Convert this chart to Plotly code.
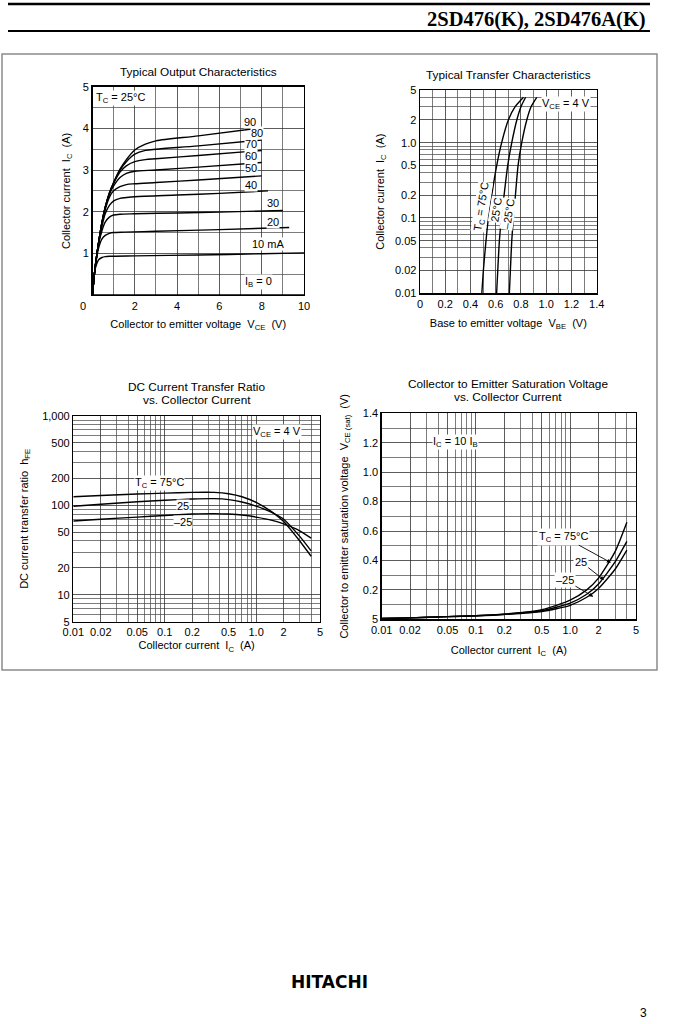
import numpy as np
import plotly.graph_objects as go

W, H = 691, 1024
FONT = "Liberation Sans, Arial, Helvetica, sans-serif"
SERIF = "Liberation Serif, Times New Roman, serif"

# ---------------- Chart 1: Typical Output Characteristics (Tc = 25 C)
ib_names = ["90", "80", "70", "60", "50", "40", "30", "20", "10 mA", "I_B = 0"]
ib90_v = [0, 0.1, 0.2, 0.3, 0.45, 0.6, 0.8, 1.0, 1.3, 1.6, 2.0, 2.5, 3.0, 5.0, 7.8]
ib90_i = [0, 0.55, 0.95, 1.3, 1.75, 2.1, 2.45, 2.7, 3.02, 3.25, 3.48, 3.62, 3.7, 3.82, 4.0]
ib80_v = [0, 0.1, 0.2, 0.3, 0.45, 0.6, 0.8, 1.0, 1.3, 1.6, 2.0, 2.5, 3.0, 5.0, 8.0]
ib80_i = [0, 0.55, 0.95, 1.3, 1.75, 2.1, 2.45, 2.7, 3.0, 3.2, 3.38, 3.47, 3.5, 3.58, 3.72]
ib70_v = [0, 0.1, 0.2, 0.3, 0.45, 0.6, 0.8, 1.0, 1.3, 1.6, 2.0, 2.5, 3.0, 5.0, 8.0]
ib70_i = [0, 0.55, 0.95, 1.3, 1.75, 2.1, 2.45, 2.68, 2.95, 3.1, 3.2, 3.25, 3.27, 3.35, 3.47]
ib60_v = [0, 0.1, 0.2, 0.3, 0.45, 0.6, 0.8, 1.0, 1.3, 1.6, 2.0, 3.0, 5.0, 8.0]
ib60_i = [0, 0.55, 0.95, 1.3, 1.75, 2.1, 2.42, 2.62, 2.82, 2.92, 2.97, 3.0, 3.07, 3.18]
ib50_v = [0, 0.1, 0.2, 0.3, 0.45, 0.6, 0.8, 1.0, 1.3, 1.6, 2.0, 3.0, 5.0, 8.0]
ib50_i = [0, 0.55, 0.95, 1.3, 1.73, 2.05, 2.35, 2.5, 2.6, 2.65, 2.67, 2.7, 2.76, 2.86]
ib40_v = [0, 0.1, 0.2, 0.3, 0.45, 0.6, 0.8, 1.0, 1.3, 1.6, 2.0, 4.0, 6.0, 8.3]
ib40_i = [0, 0.55, 0.95, 1.28, 1.65, 1.95, 2.15, 2.26, 2.32, 2.34, 2.36, 2.4, 2.44, 2.5]
ib30_v = [0, 0.1, 0.2, 0.3, 0.45, 0.6, 0.8, 1.0, 1.3, 2.0, 4.0, 6.0, 9.0]
ib30_i = [0, 0.55, 0.95, 1.25, 1.55, 1.75, 1.87, 1.92, 1.94, 1.95, 1.97, 1.99, 2.03]
ib20_v = [0, 0.1, 0.2, 0.3, 0.45, 0.6, 0.8, 1.0, 1.5, 3.0, 6.0, 9.3]
ib20_i = [0, 0.55, 0.9, 1.15, 1.35, 1.43, 1.48, 1.5, 1.51, 1.53, 1.57, 1.62]
ib10_v = [0, 0.05, 0.1, 0.2, 0.3, 0.45, 0.6, 0.8, 2.0, 5.0, 8.0, 10.0]
ib10_i = [0, 0.35, 0.55, 0.75, 0.85, 0.9, 0.92, 0.93, 0.94, 0.96, 0.99, 1.01]
ib0_v = [0, 10.0]
ib0_i = [0, 0]

# ---------------- Chart 2: Typical Transfer Characteristics (VCE = 4 V)
tr_ic = [0.01, 0.02, 0.05, 0.1, 0.2, 0.5, 1.0, 2.0, 3.0, 4.0]
tr_vbe_75 = [0.49, 0.502, 0.523, 0.542, 0.568, 0.608, 0.647, 0.70, 0.754, 0.82]
tr_vbe_25 = [0.607, 0.616, 0.629, 0.645, 0.666, 0.695, 0.727, 0.767, 0.80, 0.837]
tr_vbe_m25 = [0.708, 0.716, 0.727, 0.74, 0.756, 0.777, 0.806, 0.846, 0.88, 0.925]

# ---------------- Chart 3: DC current transfer ratio vs collector current
hfe_ic = [0.01, 0.02, 0.05, 0.1, 0.2, 0.35, 0.5, 0.7, 1.0, 1.5, 2.0, 3.0, 4.0]
hfe_75 = [125, 129, 134, 137, 140, 140, 135, 125, 108, 84, 66, 40, 27]
hfe_25 = [98, 103, 110, 114, 118, 119, 116, 109, 98, 83, 70, 45, 31]
hfe_m25 = [67, 70, 74, 77, 80, 81, 80, 78, 74, 68, 62, 52, 43]

# ---------------- Chart 4: VCE(sat) vs collector current (IC = 10 IB)
sat_ic = [0.01, 0.02, 0.05, 0.1, 0.2, 0.5, 1.0, 1.5, 2.0, 3.0, 4.0]
sat_75 = [0.005, 0.01, 0.018, 0.024, 0.035, 0.065, 0.13, 0.2, 0.28, 0.46, 0.66]
sat_25 = [0.005, 0.01, 0.018, 0.024, 0.034, 0.058, 0.11, 0.17, 0.24, 0.39, 0.53]
sat_m25 = [0.005, 0.01, 0.018, 0.024, 0.033, 0.053, 0.095, 0.15, 0.21, 0.34, 0.47]

# tick labels
c1_xticks = [0, 2, 4, 6, 8, 10]
c1_yticks = [1, 2, 3, 4, 5]
c2_xticks = [0, 0.2, 0.4, 0.6, 0.8, 1.0, 1.2, 1.4]
c2_xtext = ["0", "0.2", "0.4", "0.6", "0.8", "1.0", "1.2", "1.4"]
log_ic_ticks = [0.01, 0.02, 0.05, 0.1, 0.2, 0.5, 1, 2, 5]
log_ic_text = ["0.01", "0.02", "0.05", "0.1", "0.2", "0.5", "1.0", "2", "5"]
log_ic_minor = [0.03, 0.04, 0.06, 0.07, 0.08, 0.09, 0.3, 0.4, 0.6, 0.7, 0.8, 0.9, 3, 4]
hfe_ticks = [5, 10, 20, 50, 100, 200, 500, 1000]
hfe_text = ["5", "10", "20", "50", "100", "200", "500", "1,000"]
hfe_minor = [6, 7, 8, 9, 30, 40, 60, 70, 80, 90, 300, 400, 600, 700, 800, 900]
sat_ticks = [0, 0.2, 0.4, 0.6, 0.8, 1.0, 1.2, 1.4]
sat_text = ["5", "0.2", "0.4", "0.6", "0.8", "1.0", "1.2", "1.4"]


def px(x):
    return x / W


def py(y):
    return 1 - y / H


fig = go.Figure()


def add_line(x, y, xa, ya, name, smooth=0.8):
    fig.add_trace(go.Scatter(
        x=x, y=y, mode="lines", name=name, showlegend=False, hoverinfo="skip",
        line=dict(color="black", width=1.4, shape="spline", smoothing=smooth),
        xaxis=xa, yaxis=ya))


c1 = [(ib90_v, ib90_i), (ib80_v, ib80_i), (ib70_v, ib70_i), (ib60_v, ib60_i),
      (ib50_v, ib50_i), (ib40_v, ib40_i), (ib30_v, ib30_i), (ib20_v, ib20_i),
      (ib10_v, ib10_i), (ib0_v, ib0_i)]
for (v, i), n in zip(c1, ib_names):
    add_line(v, i, "x", "y", n)

for v, n in [(tr_vbe_75, "75°C"), (tr_vbe_25, "25°C"), (tr_vbe_m25, "-25°C")]:
    add_line(v, tr_ic, "x2", "y2", n, 0.6)

for h, n in [(hfe_75, "75"), (hfe_25, "25"), (hfe_m25, "-25")]:
    add_line(hfe_ic, h, "x3", "y3", n, 0.6)

for s, n in [(sat_75, "75"), (sat_25, "25"), (sat_m25, "-25")]:
    add_line(sat_ic, s, "x4", "y4", n, 0.6)

tickfont = dict(family=FONT, size=11, color="black")
titlefont = dict(family=FONT, size=11, color="black")
common = dict(showline=True, mirror=True, linecolor="black", linewidth=1.4,
              showgrid=True, gridcolor="#333333", gridwidth=0.8, zeroline=False,
              ticks="", tickfont=tickfont, fixedrange=True, automargin=False)
minor_lin = lambda vals: dict(tickmode="array", tickvals=vals, showgrid=True,
                              gridcolor="#444444", gridwidth=0.7, ticks="")

fig.update_layout(
    width=W, height=H, margin=dict(l=0, r=0, t=0, b=0, pad=0, autoexpand=False),
    paper_bgcolor="white", plot_bgcolor="white", showlegend=False,
    font=dict(family=FONT, size=11, color="black"),
)

fig.update_layout(
    xaxis=dict(common, domain=[px(92.5), px(304)], range=[0, 10], tickmode="array",
               tickvals=c1_xticks, ticktext=["", "2", "4", "6", "8", "10"],
               minor=minor_lin([1, 3, 5, 7, 9]), anchor="y",
               title=dict(text="Collector to emitter voltage  V<sub>CE</sub>  (V)", font=titlefont, standoff=9)),
    yaxis=dict(common, domain=[py(295), py(86.7)], range=[0, 5], tickmode="array",
               tickvals=c1_yticks, ticktext=[str(t) for t in c1_yticks],
               minor=minor_lin([0.5, 1.5, 2.5, 3.5, 4.5]), anchor="x",
               title=dict(text="Collector current  I<sub>C</sub>  (A)", font=titlefont, standoff=10)),
    xaxis2=dict(common, domain=[px(420), px(596.7)], range=[0, 1.4], tickmode="array",
                tickvals=c2_xticks, ticktext=c2_xtext,
                minor=minor_lin([0.1, 0.3, 0.5, 0.7, 0.9, 1.1, 1.3]), anchor="y2",
                title=dict(text="Base to emitter voltage  V<sub>BE</sub>  (V)", font=titlefont, standoff=10)),
    yaxis2=dict(common, domain=[py(293.3), py(90)], type="log", range=[-2, np.log10(5)],
                tickmode="array", tickvals=log_ic_ticks, ticktext=log_ic_text,
                minor=minor_lin(log_ic_minor), anchor="x2",
                title=dict(text="Collector current  I<sub>C</sub>  (A)", font=titlefont, standoff=8)),
    xaxis3=dict(common, domain=[px(73.3), px(320)], type="log", range=[-2, np.log10(5)],
                tickmode="array", tickvals=log_ic_ticks, ticktext=log_ic_text,
                minor=minor_lin(log_ic_minor), anchor="y3",
                title=dict(text="Collector current  I<sub>C</sub>  (A)", font=titlefont, standoff=4)),
    yaxis3=dict(common, domain=[py(621.7), py(416)], type="log", range=[np.log10(5), 3],
                tickmode="array", tickvals=hfe_ticks, ticktext=hfe_text,
                minor=minor_lin(hfe_minor), anchor="x3",
                title=dict(text="DC current transfer ratio  h<sub>FE</sub>", font=titlefont, standoff=11)),
    xaxis4=dict(common, domain=[px(381.7), px(636)], type="log", range=[-2, np.log10(5)],
                tickmode="array", tickvals=log_ic_ticks, ticktext=log_ic_text,
                minor=minor_lin(log_ic_minor), anchor="y4",
                title=dict(text="Collector current  I<sub>C</sub>  (A)", font=titlefont, standoff=11)),
    yaxis4=dict(common, domain=[py(619.3), py(413.3)], range=[0, 1.4],
                tickmode="array", tickvals=sat_ticks, ticktext=sat_text,
                minor=minor_lin([0.1, 0.3, 0.5, 0.7, 0.9, 1.1, 1.3]), anchor="x4",
                title=dict(text="Collector to emitter saturation voltage  V<sub>CE (sat)</sub>  (V)",
                           font=titlefont, standoff=12)),
)

ann = []


def A(text, x, y, xref="paper", yref="paper", size=11, bg=None, **kw):
    d = dict(text=text, x=x, y=y, xref=xref, yref=yref, showarrow=False,
             font=dict(family=FONT, size=size, color="black"),
             xanchor="center", yanchor="middle")
    if bg:
        d["bgcolor"] = bg
        d["borderpad"] = 0
    d.update(kw)
    ann.append(d)


WB = "white"
# page header / footer
A("<b>2SD476(K), 2SD476A(K)</b>", px(648), py(19.5), xanchor="right",
  font=dict(family=SERIF, size=20.5, color="black"))
A("<b>HITACHI</b>", px(329), py(982), font=dict(family="DejaVu Sans, sans-serif", size=17, color="black"))
A("3", px(643), py(1012.5), size=12)

# subplot titles
A("Typical Output Characteristics", px(198), py(72), size=11.8)
A("Typical Transfer Characteristics", px(508), py(75), size=11.8)
A("DC Current Transfer Ratio", px(196.7), py(386.7), size=11.8)
A("vs. Collector Current", px(196.7), py(400), size=11.8)
A("Collector to Emitter Saturation Voltage", px(508.3), py(384), size=11.8)
A("vs. Collector Current", px(508.3), py(396.7), size=11.8)

# chart 1 labels
A("0", px(83), py(306))
A("T<sub>C</sub> = 25°C", 1.33, 4.74, "x", "y", bg=WB)
A("90", 7.45, 4.16, "x", "y", bg=WB)
A("80", 7.8, 3.9, "x", "y", bg=WB)
A("70", 7.5, 3.62, "x", "y", bg=WB)
A("60", 7.5, 3.34, "x", "y", bg=WB)
A("50", 7.5, 3.04, "x", "y", bg=WB)
A("40", 7.5, 2.64, "x", "y", bg=WB)
A("30", 8.55, 2.2, "x", "y", bg=WB)
A("20", 8.55, 1.76, "x", "y", bg=WB)
A("10 mA", 8.3, 1.22, "x", "y", bg=WB)
A("I<sub>B</sub> = 0", 7.83, 0.32, "x", "y", bg=WB)

# chart 2 labels
A("V<sub>CE</sub> = 4 V", 1.16, np.log10(3.3), "x2", "y2", bg=WB)
A("T<sub>C</sub> = 75°C", 0.488, np.log10(0.141), "x2", "y2", bg=WB, textangle=-81)
A("25°C", 0.603, np.log10(0.128), "x2", "y2", bg=WB, textangle=-81)
A("–25°C", 0.700, np.log10(0.113), "x2", "y2", bg=WB, textangle=-81)

# chart 3 labels
A("V<sub>CE</sub> = 4 V", np.log10(1.68), 2.825, "x3", "y3", bg=WB)
A("T<sub>C</sub> = 75°C", np.log10(0.0887), np.log10(176), "x3", "y3", bg=WB)
A("25", np.log10(0.16), 1.993, "x3", "y3", bg=WB)
A("–25", np.log10(0.16), 1.818, "x3", "y3", bg=WB)

# chart 4 labels
A("I<sub>C</sub> = 10 I<sub>B</sub>", np.log10(0.06), 1.2075, "x4", "y4", bg=WB)
for txt, tip_x, tip_y, axp, ayp in [("T<sub>C</sub> = 75°C", 2.71, 0.385, -47.7, -26.0),
                                    ("25", 2.29, 0.267, -23.3, -18.3),
                                    ("–25", 1.76, 0.154, -28.3, -16.7)]:
    ann.append(dict(text=txt, x=np.log10(tip_x), y=tip_y, xref="x4", yref="y4",
                    showarrow=True, ax=axp, ay=ayp, arrowhead=2, arrowsize=0.9,
                    arrowwidth=0.9, arrowcolor="black", bgcolor="white",
                    font=dict(family=FONT, size=11, color="black")))

fig.update_layout(annotations=ann)

shapes = [
    dict(type="line", xref="paper", yref="paper", x0=px(8), x1=px(650), y0=py(4), y1=py(4),
         line=dict(color="black", width=2.5)),
    dict(type="line", xref="paper", yref="paper", x0=px(8), x1=px(650), y0=py(31), y1=py(31),
         line=dict(color="black", width=2)),
    dict(type="rect", xref="paper", yref="paper", x0=px(2), x1=px(657), y0=py(670), y1=py(54),
         line=dict(color="#8c8c8c", width=1.5), layer="below"),
]
fig.update_layout(shapes=shapes)

fig.write_html("out.html",
               config={"displayModeBar": False, "staticPlot": True},
               post_script="document.body.style.margin='0px';document.body.style.overflow='hidden';")
